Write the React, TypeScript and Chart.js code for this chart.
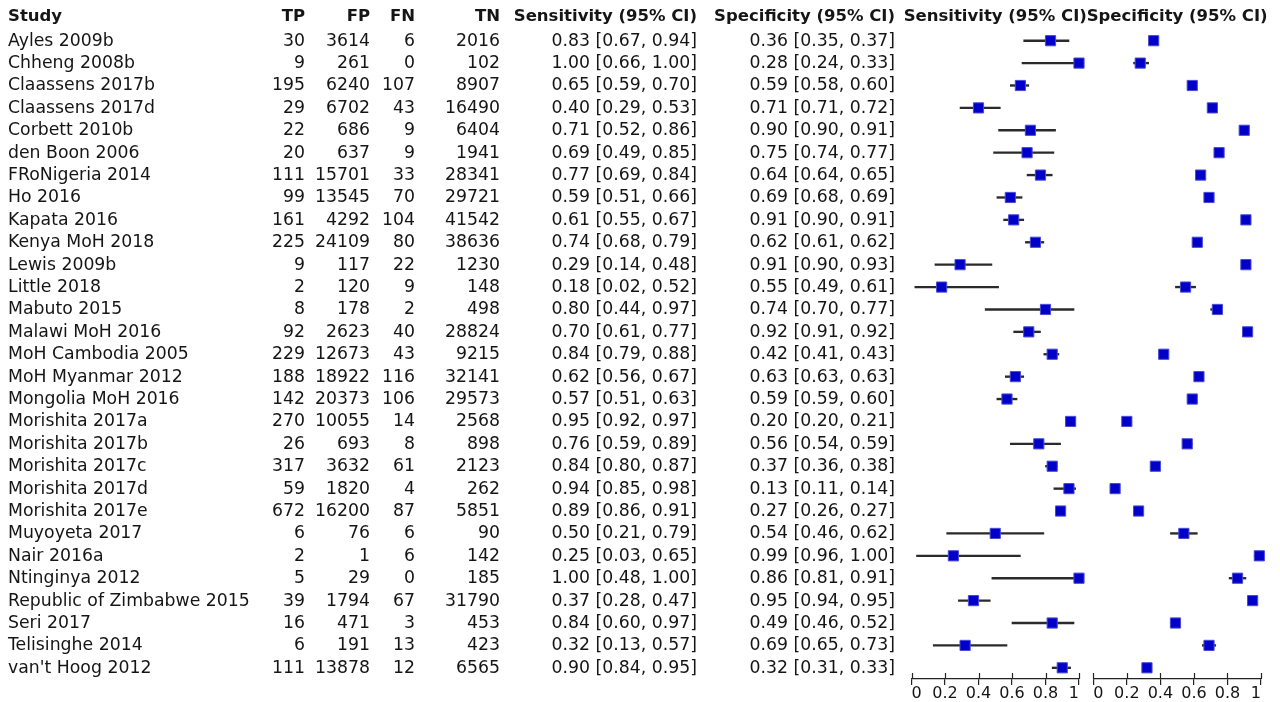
import React, { useEffect, useRef } from 'react';
import { Chart, registerables } from 'chart.js';

Chart.register(...registerables);

const studies = ['Ayles 2009b', 'Chheng 2008b', 'Claassens 2017b', 'Claassens 2017d', 'Corbett 2010b', 'den Boon 2006', 'FRoNigeria 2014', 'Ho 2016', 'Kapata 2016', 'Kenya MoH 2018', 'Lewis 2009b', 'Little 2018', 'Mabuto 2015', 'Malawi MoH 2016', 'MoH Cambodia 2005', 'MoH Myanmar 2012', 'Mongolia MoH 2016', 'Morishita 2017a', 'Morishita 2017b', 'Morishita 2017c', 'Morishita 2017d', 'Morishita 2017e', 'Muyoyeta 2017', 'Nair 2016a', 'Ntinginya 2012', 'Republic of Zimbabwe 2015', 'Seri 2017', 'Telisinghe 2014', "van't Hoog 2012"];
const tp = [30, 9, 195, 29, 22, 20, 111, 99, 161, 225, 9, 2, 8, 92, 229, 188, 142, 270, 26, 317, 59, 672, 6, 2, 5, 39, 16, 6, 111];
const fp = [3614, 261, 6240, 6702, 686, 637, 15701, 13545, 4292, 24109, 117, 120, 178, 2623, 12673, 18922, 20373, 10055, 693, 3632, 1820, 16200, 76, 1, 29, 1794, 471, 191, 13878];
const fn = [6, 0, 107, 43, 9, 9, 33, 70, 104, 80, 22, 9, 2, 40, 43, 116, 106, 14, 8, 61, 4, 87, 6, 6, 0, 67, 3, 13, 12];
const tn = [2016, 102, 8907, 16490, 6404, 1941, 28341, 29721, 41542, 38636, 1230, 148, 498, 28824, 9215, 32141, 29573, 2568, 898, 2123, 262, 5851, 90, 142, 185, 31790, 453, 423, 6565];
const sens = [0.83, 1.00, 0.65, 0.40, 0.71, 0.69, 0.77, 0.59, 0.61, 0.74, 0.29, 0.18, 0.80, 0.70, 0.84, 0.62, 0.57, 0.95, 0.76, 0.84, 0.94, 0.89, 0.50, 0.25, 1.00, 0.37, 0.84, 0.32, 0.90];
const sensLo = [0.67, 0.66, 0.59, 0.29, 0.52, 0.49, 0.69, 0.51, 0.55, 0.68, 0.14, 0.02, 0.44, 0.61, 0.79, 0.56, 0.51, 0.92, 0.59, 0.80, 0.85, 0.86, 0.21, 0.03, 0.48, 0.28, 0.60, 0.13, 0.84];
const sensHi = [0.94, 1.00, 0.70, 0.53, 0.86, 0.85, 0.84, 0.66, 0.67, 0.79, 0.48, 0.52, 0.97, 0.77, 0.88, 0.67, 0.63, 0.97, 0.89, 0.87, 0.98, 0.91, 0.79, 0.65, 1.00, 0.47, 0.97, 0.57, 0.95];
const spec = [0.36, 0.28, 0.59, 0.71, 0.90, 0.75, 0.64, 0.69, 0.91, 0.62, 0.91, 0.55, 0.74, 0.92, 0.42, 0.63, 0.59, 0.20, 0.56, 0.37, 0.13, 0.27, 0.54, 0.99, 0.86, 0.95, 0.49, 0.69, 0.32];
const specLo = [0.35, 0.24, 0.58, 0.71, 0.90, 0.74, 0.64, 0.68, 0.90, 0.61, 0.90, 0.49, 0.70, 0.91, 0.41, 0.63, 0.59, 0.20, 0.54, 0.36, 0.11, 0.26, 0.46, 0.96, 0.81, 0.94, 0.46, 0.65, 0.31];
const specHi = [0.37, 0.33, 0.60, 0.72, 0.91, 0.77, 0.65, 0.69, 0.91, 0.62, 0.93, 0.61, 0.77, 0.92, 0.43, 0.63, 0.60, 0.21, 0.59, 0.38, 0.14, 0.27, 0.62, 1.00, 0.91, 0.95, 0.52, 0.73, 0.33];
const axisTicks = [0, 0.2, 0.4, 0.6, 0.8, 1];
const tableHeaders = ['Study', 'TP', 'FP', 'FN', 'TN', 'Sensitivity (95% CI)', 'Specificity (95% CI)'];
const plotHeaders = ['Sensitivity (95% CI)', 'Specificity (95% CI)'];

const FONT = '"DejaVu Sans", sans-serif';
const TEXT = '#151515';
const AXIS = '#222';
const ROW_SIZE = 17.3;
const HEAD_SIZE = 16.5;
const TOP_PAD = 29.5;
const AXIS_H = 23;

const ci = (v: number, lo: number, hi: number) => `${v.toFixed(2)} [${lo.toFixed(2)}, ${hi.toFixed(2)}]`;

// column anchors of the table (layout only)
const COLS = [
  { x: 8, align: 'left' },
  { x: 305, align: 'right' },
  { x: 370, align: 'right' },
  { x: 415, align: 'right' },
  { x: 500, align: 'right' },
  { x: 697, align: 'right' },
  { x: 895, align: 'right' },
];

const headerY = (chart: any) => {
  const y = chart.scales.y;
  const step = y.getPixelForValue(1) - y.getPixelForValue(0);
  return y.getPixelForValue(0) - step - 2;
};

const tablePlugin = {
  id: 'tableText',
  afterDraw(chart: any) {
    const ctx = chart.ctx;
    const y = chart.scales.y;
    ctx.save();
    ctx.fillStyle = TEXT;
    ctx.textBaseline = 'middle';
    const hy = headerY(chart);
    ctx.font = `bold ${HEAD_SIZE}px ${FONT}`;
    tableHeaders.forEach((h, c) => {
      ctx.textAlign = COLS[c].align;
      ctx.fillText(h, COLS[c].x, hy);
    });
    ctx.font = `${ROW_SIZE}px ${FONT}`;
    studies.forEach((s, i) => {
      const py = y.getPixelForValue(i) + 0.5;
      const cells = [s, String(tp[i]), String(fp[i]), String(fn[i]), String(tn[i]), ci(sens[i], sensLo[i], sensHi[i]), ci(spec[i], specLo[i], specHi[i])];
      cells.forEach((t, c) => {
        ctx.textAlign = COLS[c].align;
        ctx.fillText(t, COLS[c].x, py);
      });
    });
    ctx.restore();
  },
};

const axisPlugin = {
  id: 'forestAxis',
  afterDraw(chart: any) {
    const ctx = chart.ctx;
    const x = chart.scales.x;
    const bottom = chart.chartArea.bottom;
    ctx.save();
    ctx.strokeStyle = AXIS;
    ctx.lineWidth = 1.2;
    x.ticks.forEach((t: any) => {
      const px = Math.round(x.getPixelForValue(t.value)) + 0.5;
      ctx.beginPath();
      ctx.moveTo(px, bottom - 6);
      ctx.lineTo(px, bottom);
      ctx.stroke();
    });
    const title = chart.options.plugins.forestAxis.title;
    ctx.fillStyle = TEXT;
    ctx.font = `bold ${HEAD_SIZE}px ${FONT}`;
    ctx.textAlign = 'center';
    ctx.textBaseline = 'middle';
    ctx.fillText(title, x.getPixelForValue(0.5), headerY(chart));
    ctx.restore();
  },
};

function makeChart(canvas: HTMLCanvasElement, vals: number[], lo: number[], hi: number[], padLeft: number, padRight: number, title: string, extra: any[]) {
  return new Chart(canvas, {
    type: 'bar',
    data: {
      labels: studies,
      datasets: [
        {
          type: 'bar',
          data: lo.map((l, i) => [l, hi[i]]) as any,
          backgroundColor: '#2a2a2a',
          borderWidth: 0,
          barThickness: 1.7,
          indexAxis: 'y',
          clip: false,
          order: 2,
        } as any,
        {
          type: 'scatter',
          data: vals.map((v, i) => ({ x: v, y: studies[i] })),
          pointStyle: 'rect',
          pointRadius: 7.2,
          pointHoverRadius: 7.2,
          backgroundColor: '#0000C8',
          borderColor: '#4a4ad8',
          borderWidth: 1,
          showLine: false,
          clip: false,
          order: 1,
        } as any,
      ],
    },
    options: {
      animation: false,
      responsive: false,
      maintainAspectRatio: false,
      indexAxis: 'y',
      events: [],
      layout: { padding: { left: padLeft, right: padRight, top: TOP_PAD, bottom: 0 } },
      plugins: {
        legend: { display: false },
        tooltip: { enabled: false },
        forestAxis: { title },
      } as any,
      scales: {
        x: {
          type: 'linear',
          position: 'bottom',
          min: 0,
          max: 1,
          afterBuildTicks: (scale: any) => {
            scale.ticks = axisTicks.map((v) => ({ value: v }));
          },
          afterFit: (scale: any) => {
            scale.height = AXIS_H;
          },
          ticks: {
            color: TEXT,
            font: { family: FONT, size: 16 },
            padding: -1,
            align: 'inner',
            maxRotation: 0,
            autoSkip: false,
            callback: (v: any) => String(v),
          },
          grid: {
            drawOnChartArea: false,
            drawTicks: true,
            tickLength: 6,
            color: AXIS,
            lineWidth: 1.2,
          },
          border: { display: true, color: AXIS, width: 1.2 },
        },
        y: {
          type: 'category',
          display: false,
          offset: true,
          grid: { display: false },
        },
      },
    },
    plugins: [axisPlugin, ...extra],
  } as any);
}

export default function App() {
  const ref1 = useRef<HTMLCanvasElement>(null);
  const ref2 = useRef<HTMLCanvasElement>(null);
  useEffect(() => {
    const c1 = makeChart(ref1.current!, sens, sensLo, sensHi, 911.5, 1088 - 1079, plotHeaders[0], [tablePlugin]);
    const c2 = makeChart(ref2.current!, spec, specLo, specHi, 1093.3 - 1084, 1280 - 1261, plotHeaders[1], []);
    return () => {
      c1.destroy();
      c2.destroy();
    };
  }, []);
  return (
    <div style={{ position: 'absolute', left: 0, top: 0, width: 1280, height: 702, overflow: 'hidden', background: '#fff' }}>
      <canvas ref={ref1} width={1088} height={702} style={{ position: 'absolute', left: 0, top: 0, width: 1088, height: 702 }} />
      <canvas ref={ref2} width={196} height={702} style={{ position: 'absolute', left: 1084, top: 0, width: 196, height: 702 }} />
    </div>
  );
}
